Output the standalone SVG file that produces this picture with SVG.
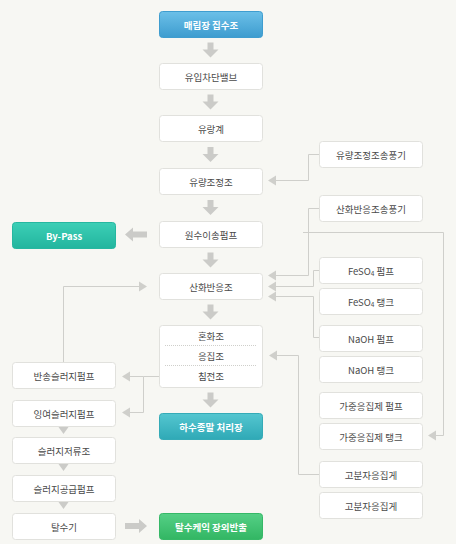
<svg xmlns="http://www.w3.org/2000/svg" width="456" height="544" viewBox="0 0 456 544">
<defs>
<style>
.bx{fill:#fff;stroke:#e1e1dd;stroke-width:1}
.t{font-family:"Noto Sans CJK KR","Noto Sans",sans-serif;font-size:9.5px;fill:#4a4a4a;text-anchor:middle;dominant-baseline:central}
.tw{font-family:"Noto Sans CJK KR","Noto Sans",sans-serif;font-size:9.5px;font-weight:bold;fill:#fff;text-anchor:middle;dominant-baseline:central}
.ln{fill:none;stroke:#cfcfcb;stroke-width:1}
.ah{fill:#cfcfcb}
.ba{fill:#cbcbc8}
</style>
<linearGradient id="gBlue" x1="0" y1="0" x2="0" y2="1"><stop offset="0" stop-color="#6cc0e8"/><stop offset="1" stop-color="#3d9ccf"/></linearGradient>
<linearGradient id="gTeal" x1="0" y1="0" x2="0" y2="1"><stop offset="0" stop-color="#3ccfb6"/><stop offset="1" stop-color="#22b59e"/></linearGradient>
<linearGradient id="gCyan" x1="0" y1="0" x2="0" y2="1"><stop offset="0" stop-color="#54c6d0"/><stop offset="1" stop-color="#2fa9b6"/></linearGradient>
<linearGradient id="gGreen" x1="0" y1="0" x2="0" y2="1"><stop offset="0" stop-color="#55d086"/><stop offset="1" stop-color="#32b663"/></linearGradient>
<path id="dA" d="M-3,0 h6 v7 h5 l-8,8 l-8,-8 h5 z"/>
<path id="lA" d="M0,0 l8,-7 v4 h14 v6 h-14 v4 z"/>
<path id="sh" d="M0,0 l8,-5 v10 z"/>
<path id="tri" d="M-5,0 h10 l-5,7 z"/>
</defs>
<rect width="456" height="544" fill="#f7f7f3"/>

<g id="connectors">
  <use href="#dA" class="ba" x="210.5" y="42.5"/>
  <use href="#dA" class="ba" x="210.5" y="94.5"/>
  <use href="#dA" class="ba" x="210.5" y="147"/>
  <use href="#dA" class="ba" x="210.5" y="200"/>
  <use href="#dA" class="ba" x="210.5" y="252.5"/>
  <use href="#dA" class="ba" x="210.5" y="304.5"/>
  <use href="#dA" class="ba" x="210.5" y="392.5"/>
  <use href="#lA" class="ba" x="125" y="234.5"/>
  <use href="#lA" class="ba" transform="translate(147,526) scale(-1,1)"/>
  <use href="#tri" class="ba" x="63.5" y="427"/>
  <use href="#tri" class="ba" x="63.5" y="464"/>
  <use href="#tri" class="ba" x="63.5" y="502"/>
  <path class="ln" d="M319,154.5 H308.5 V180.5 H276"/>
  <use href="#sh" class="ah" x="268" y="180.5"/>
  <path class="ln" d="M319,208.5 H308.5 V275.5 H276"/>
  <use href="#sh" class="ah" x="268" y="275.5"/>
  <path class="ln" d="M319,270.5 H313.5 V286.5 H276"/>
  <use href="#sh" class="ah" x="268" y="286.5"/>
  <path class="ln" d="M319,337.5 H313.5 V296.5 H276"/>
  <use href="#sh" class="ah" x="268" y="296.5"/>
  <path class="ln" d="M303,232.5 H443.5 V435.5 H436"/>
  <use href="#sh" class="ah" x="428" y="435.5"/>
  <path class="ln" d="M319,474.5 H298.5 V355.5 H277"/>
  <use href="#sh" class="ah" x="269" y="355.5"/>
  <path class="ln" d="M159,376.5 H143.5 V412.5 H130"/>
  <path class="ln" d="M143.5,376.5 H130"/>
  <use href="#sh" class="ah" x="122" y="376.5"/>
  <use href="#sh" class="ah" x="122" y="412.5"/>
  <path class="ln" d="M63.5,362 V286.5 H139"/>
  <use href="#sh" class="ah" transform="translate(147,286.5) scale(-1,1)"/>
</g>

<g id="n1"><rect x="159.5" y="11.5" width="103" height="26" rx="3" fill="url(#gBlue)" stroke="#3f9dcf"/><text class="tw" x="211" y="24.5">매립장 집수조</text></g>
<g id="n2"><rect class="bx" x="159.5" y="63.5" width="103" height="26" rx="3"/><text class="t" x="211" y="76.5">유입차단밸브</text></g>
<g id="n3"><rect class="bx" x="159.5" y="115.5" width="103" height="26" rx="3"/><text class="t" x="211" y="128.5">유랑계</text></g>
<g id="n4"><rect class="bx" x="159.5" y="168.5" width="103" height="26" rx="3"/><text class="t" x="211" y="181.5">유량조정조</text></g>
<g id="n5"><rect class="bx" x="159.5" y="221.5" width="103" height="26" rx="3"/><text class="t" x="211" y="234.5">원수이송펌프</text></g>
<g id="n6"><rect class="bx" x="159.5" y="273.5" width="103" height="26" rx="3"/><text class="t" x="211" y="286.5">산화반응조</text></g>
<g id="n7"><rect class="bx" x="159.5" y="325.5" width="103" height="62" rx="3"/>
  <line x1="165" y1="345.5" x2="256" y2="345.5" stroke="#cfcfcb" stroke-dasharray="1,1"/>
  <line x1="165" y1="365.5" x2="256" y2="365.5" stroke="#cfcfcb" stroke-dasharray="1,1"/>
  <text class="t" x="211" y="336">혼화조</text><text class="t" x="211" y="355.5">응집조</text><text class="t" x="211" y="375.5">침전조</text></g>
<g id="n8"><rect x="159.5" y="413.5" width="103" height="26" rx="3" fill="url(#gCyan)" stroke="#35abb7"/><text class="tw" x="211" y="426.5">하수종말 처리장</text></g>
<g id="n9"><rect x="159.5" y="513.5" width="103" height="26" rx="3" fill="url(#gGreen)" stroke="#36b867"/><text class="tw" x="211" y="526.5">탈수케익 장외반출</text></g>

<g id="bypass"><rect x="12.5" y="222.5" width="103" height="26" rx="3" fill="url(#gTeal)" stroke="#26b7a0"/><text class="tw" x="64" y="235.5">By-Pass</text></g>
<g id="l1"><rect class="bx" x="12.5" y="362.5" width="103" height="26" rx="3"/><text class="t" x="64" y="375.5">반송슬러지펌프</text></g>
<g id="l2"><rect class="bx" x="12.5" y="400.5" width="103" height="26" rx="3"/><text class="t" x="64" y="413.5">잉여슬러지펌프</text></g>
<g id="l3"><rect class="bx" x="12.5" y="437.5" width="103" height="26" rx="3"/><text class="t" x="64" y="450.5">슬러지저류조</text></g>
<g id="l4"><rect class="bx" x="12.5" y="475.5" width="103" height="26" rx="3"/><text class="t" x="64" y="488.5">슬러지공급펌프</text></g>
<g id="l5"><rect class="bx" x="12.5" y="513.5" width="103" height="26" rx="3"/><text class="t" x="64" y="526.5">탈수기</text></g>

<g id="r1"><rect class="bx" x="319.5" y="141.5" width="103" height="26" rx="3"/><text class="t" x="371" y="154.5">유량조정조송풍기</text></g>
<g id="r2"><rect class="bx" x="319.5" y="195.5" width="103" height="26" rx="3"/><text class="t" x="371" y="208.5">산화반응조송풍기</text></g>
<g id="r3"><rect class="bx" x="319.5" y="257.5" width="103" height="26" rx="3"/><text class="t" x="371" y="270.5">FeSO<tspan font-size="6.5" dy="2">4</tspan><tspan dy="-2"> 펌프</tspan></text></g>
<g id="r4"><rect class="bx" x="319.5" y="288.5" width="103" height="26" rx="3"/><text class="t" x="371" y="301.5">FeSO<tspan font-size="6.5" dy="2">4</tspan><tspan dy="-2"> 탱크</tspan></text></g>
<g id="r5"><rect class="bx" x="319.5" y="325.5" width="103" height="26" rx="3"/><text class="t" x="371" y="338.5">NaOH 펌프</text></g>
<g id="r6"><rect class="bx" x="319.5" y="356.5" width="103" height="26" rx="3"/><text class="t" x="371" y="369.5">NaOH 탱크</text></g>
<g id="r7"><rect class="bx" x="319.5" y="392.5" width="103" height="26" rx="3"/><text class="t" x="371" y="405.5">가중응집제 펌프</text></g>
<g id="r8"><rect class="bx" x="319.5" y="423.5" width="103" height="26" rx="3"/><text class="t" x="371" y="436.5">가중응집제 탱크</text></g>
<g id="r9"><rect class="bx" x="319.5" y="461.5" width="103" height="26" rx="3"/><text class="t" x="371" y="474.5">고분자응집게</text></g>
<g id="r10"><rect class="bx" x="319.5" y="492.5" width="103" height="26" rx="3"/><text class="t" x="371" y="505.5">고분자응집게</text></g>
</svg>
